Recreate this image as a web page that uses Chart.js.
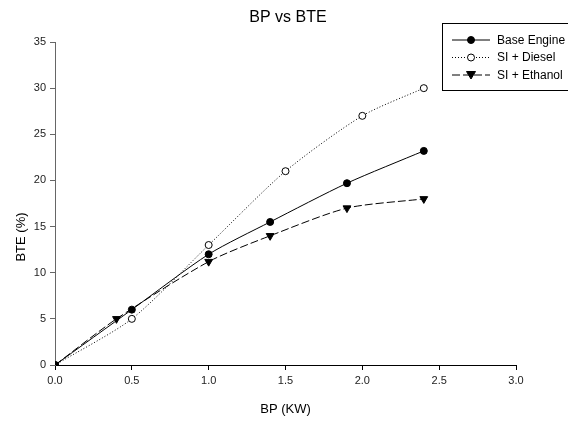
<!DOCTYPE html>
<html>
<head>
<meta charset="utf-8">
<script src="https://cdn.jsdelivr.net/npm/chart.js@4.4.0/dist/chart.umd.min.js"></script>
<style>
  body { margin: 0; background: #fff; }
  #wrap { width: 568px; height: 423px; }
</style>
</head>
<body>
<div id="wrap"><canvas id="myChart" width="568" height="423"></canvas></div>
<script>
'use strict';

// values
let baseBP = [0, 0.5, 1.0, 1.4, 1.9, 2.4];
let baseBTE = [0, 6.0, 12.0, 15.5, 19.7, 23.2];

let dieselBP = [0, 0.5, 1.0, 1.5, 2.0, 2.4];
let dieselBTE = [0, 5.0, 13.0, 21.0, 27.0, 30.0];

let ethanolBP = [0, 0.4, 1.0, 1.4, 1.9, 2.4];
let ethanolBTE = [0, 5.0, 11.2, 14.0, 17.0, 18.0];

let seriesNames = ['Base Engine', 'SI + Diesel', 'SI + Ethanol'];
let chartTitle = 'BP vs BTE';
let xTitle = 'BP (KW)';
let yTitle = 'BTE (%)';

function toPoints(xs, ys) {
  let pts = [];
  for (let i = 0; i < xs.length; i++) {
    pts.push({ x: xs[i], y: ys[i] });
  }
  return pts;
}

const font = 'Liberation Sans, Arial, sans-serif';

// title, y title and the boxed legend, placed like the original
const extras = {
  id: 'extras',
  afterDraw(chart) {
    let ctx = chart.ctx;
    ctx.save();
    ctx.fillStyle = '#000';
    ctx.textAlign = 'center';
    ctx.textBaseline = 'middle';
    ctx.font = '16px ' + font;
    ctx.fillText(chartTitle, 288, 18);

    ctx.save();
    ctx.translate(21, 237);
    ctx.rotate(-Math.PI / 2);
    ctx.font = '13px ' + font;
    ctx.fillText(yTitle, 0, 0);
    ctx.restore();

    ctx.strokeStyle = '#000';
    ctx.lineWidth = 1;
    ctx.strokeRect(442.5, 23.5, 140, 67);
    ctx.font = '12px ' + font;
    ctx.textAlign = 'left';
    chart.data.datasets.forEach(function (ds, i) {
      let y = 40 + i * 17.5;
      ctx.beginPath();
      ctx.setLineDash(ds.borderDash || []);
      ctx.moveTo(452, y);
      ctx.lineTo(490, y);
      ctx.stroke();
      ctx.setLineDash([]);
      ctx.beginPath();
      if (ds.pointStyle === 'triangle') {
        ctx.moveTo(466.5, y - 3.5);
        ctx.lineTo(475.5, y - 3.5);
        ctx.lineTo(471, y + 4);
        ctx.closePath();
      } else {
        ctx.arc(471, y, 3.5, 0, Math.PI * 2);
      }
      ctx.fillStyle = ds.pointBackgroundColor;
      ctx.fill();
      ctx.stroke();
      ctx.fillStyle = '#000';
      ctx.fillText(ds.label, 497, y + 0.5);
    });
    ctx.restore();
  }
};

let ctx = document.getElementById('myChart').getContext('2d');
let myChart = new Chart(ctx, {
  type: 'line',
  data: {
    datasets: [
      {
        label: seriesNames[0],
        data: toPoints(baseBP, baseBTE),
        borderColor: '#000',
        borderWidth: 1,
        pointRadius: 3.5,
        pointStyle: 'circle',
        pointBackgroundColor: '#000',
        pointBorderColor: '#000',
        tension: 0.25
      },
      {
        label: seriesNames[1],
        data: toPoints(dieselBP, dieselBTE),
        borderColor: '#000',
        borderWidth: 1,
        borderDash: [1, 2],
        pointRadius: 3.5,
        pointStyle: 'circle',
        pointBackgroundColor: '#fff',
        pointBorderColor: '#000',
        tension: 0.25
      },
      {
        label: seriesNames[2],
        data: toPoints(ethanolBP, ethanolBTE),
        borderColor: '#000',
        borderWidth: 1,
        borderDash: [8, 3],
        pointRadius: 4.5,
        pointStyle: 'triangle',
        rotation: 180,
        pointBackgroundColor: '#000',
        pointBorderColor: '#000',
        tension: 0.25
      }
    ]
  },
  options: {
    responsive: false,
    animation: false,
    layout: { padding: { left: 0, right: 52, top: 42, bottom: 0 } },
    plugins: {
      legend: { display: false },
      tooltip: { enabled: false },
      title: { display: false }
    },
    scales: {
      x: {
        type: 'linear',
        min: 0,
        max: 3,
        afterFit: function (scale) { scale.height = 58; },
        ticks: {
          stepSize: 0.5,
          color: '#222',
          font: { family: font, size: 11 },
          padding: 4,
          maxRotation: 0,
          callback: function (v) { return v.toFixed(1); }
        },
        grid: { drawOnChartArea: false, drawTicks: true, tickLength: 5, color: '#000' },
        border: { display: true, color: '#000' },
        title: {
          display: true,
          text: xTitle,
          color: '#000',
          font: { family: font, size: 13 },
          padding: { bottom: 6 }
        }
      },
      y: {
        min: 0,
        max: 35,
        afterFit: function (scale) { scale.width = 55; },
        ticks: {
          stepSize: 5,
          color: '#222',
          font: { family: font, size: 11 },
          padding: 4
        },
        grid: { drawOnChartArea: false, drawTicks: true, tickLength: 5, color: '#666' },
        border: { display: true, color: '#666' }
      }
    }
  },
  plugins: [extras]
});
</script>
</body>
</html>
